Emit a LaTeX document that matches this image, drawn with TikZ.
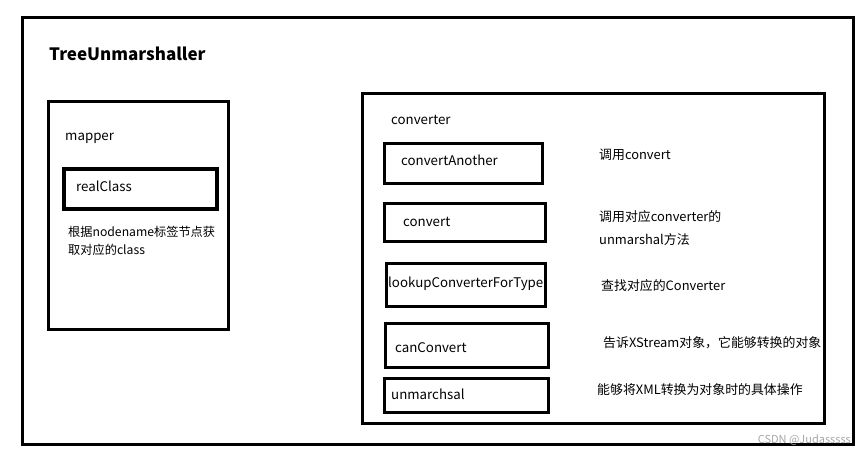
\documentclass[tikz,border=0pt]{standalone}
\usepackage{fontspec}
\setmainfont{Noto Sans CJK SC}
\begin{document}
\begin{tikzpicture}[x=1pt,y=-1pt,
  box/.style={draw=black, line width=3pt, rectangle, inner sep=0pt, anchor=north west},
  lbl/.style={anchor=west, inner sep=0pt, font=\fontsize{13.3}{16}\selectfont},
  note/.style={anchor=west, inner sep=0pt, font=\fontsize{12.9}{23}\selectfont, align=left},
  mnote/.style={anchor=west, inner sep=0pt, font=\fontsize{12.2}{18}\selectfont, align=left}]
\useasboundingbox (0,0) rectangle (865,456);
% outer frame
\node[box, minimum width=831pt, minimum height=427pt] (outer) at (21,16) {};
\node[anchor=west, inner sep=0pt, font=\fontsize{17}{20}\selectfont\bfseries] (title) at (49,54) {TreeUnmarshaller};
% mapper
\node[box, minimum width=180pt, minimum height=228pt] (mapper) at (47,100) {};
\node[lbl] (mapperlbl) at (65,138) {mapper};
\node[box, line width=3.5pt, minimum width=153pt, minimum height=40pt] (realbox) at (62,167) {};
\node[lbl] (real) at (76,186) {realClass};
\node[mnote] (realnote) at (68,241) {根据nodename标签节点获\\取对应的class};
% converter
\node[box, minimum width=462pt, minimum height=330pt] (conv) at (361,92) {};
\node[lbl] (convlbl) at (391,120) {converter};
\node[box, minimum width=158pt, minimum height=40pt] (cabox) at (383,142) {};
\node[lbl] (ca) at (401,160) {convertAnother};
\node[box, minimum width=161pt, minimum height=38pt] (cvbox) at (383,202) {};
\node[lbl] (cv) at (403,222) {convert};
\node[lbl] (lk) at (388,284) {lookupConverterForType};
\fill[white] (545.5,262) rectangle (560,306);
\node[box, minimum width=159pt, minimum height=43pt] (lkbox) at (385,262) {};
\node[box, minimum width=163pt, minimum height=44pt] (ccbox) at (384,322) {};
\node[lbl] (cc) at (395,348) {canConvert};
\node[box, minimum width=164pt, minimum height=34pt] (umbox) at (383,377) {};
\node[lbl] (um) at (391,394) {unmarchsal};
% notes
\node[note] (n1) at (599,155) {调用convert};
\node[note] (n2) at (599,228.5) {调用对应converter的\\unmarshal方法};
\node[note] (n3) at (601,286) {查找对应的Converter};
\node[note] (n4) at (603,343) {告诉XStream对象，它能够转换的对象};
\node[note] (n5) at (597,390) {能够将XML转换为对象时的具体操作};
\node[anchor=east, inner sep=0pt, text=black!35, font=\fontsize{11}{13}\selectfont] (wm) at (851,440) {CSDN @Judasssss};
\end{tikzpicture}
\end{document}
